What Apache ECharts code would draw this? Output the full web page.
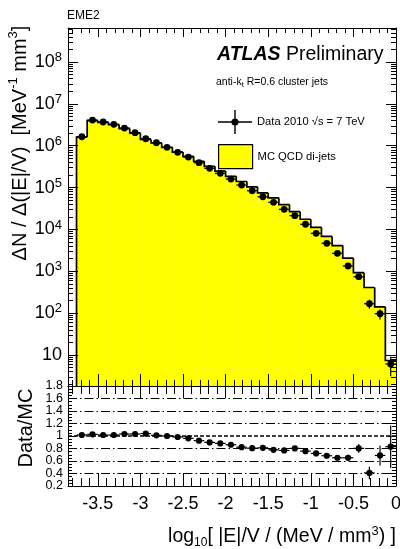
<!DOCTYPE html>
<html><head><meta charset="utf-8">
<script src="https://cdn.jsdelivr.net/npm/echarts@6/dist/echarts.min.js"></script>
<style>html,body{margin:0;padding:0;background:#fff}#c{width:400px;height:549px}</style>
</head><body><div id="c"></div>
<script>
// ---- data ----
const binEdges = [-3.75,-3.625,-3.5,-3.375,-3.25,-3.125,-3,-2.875,-2.75,-2.625,-2.5,-2.375,-2.25,-2.125,-2,-1.875,-1.75,-1.625,-1.5,-1.375,-1.25,-1.125,-1,-0.875,-0.75,-0.625,-0.5,-0.375,-0.25,-0.125,0];
const mcValues = [1.61e6,4.00e6,3.63e6,3.20e6,2.57e6,1.99e6,1.415e6,1.167e6,9.16e5,7.06e5,5.58e5,4.25e5,3.22e5,2.48e5,1.86e5,1.40e5,1.045e5,7.46e4,5.71e4,3.94e4,2.66e4,1.755e4,1.122e4,6830,4130,2060,926,410,141,7.4];
const dataValues = [1.64e6,4.11e6,3.69e6,3.25e6,2.65e6,2.05e6,1.47e6,1.18e6,9.16e5,6.95e5,5.37e5,3.93e5,2.89e5,2.19e5,1.60e5,1.15e5,8.41e4,6.05e4,4.45e4,3.03e4,2.13e4,1.33e4,8090,4670,2690,1340,743,168,97,6.1];
const dataErrors = [8e3,2e4,1.8e4,1.6e4,1.3e4,1e4,8.5e3,7e3,6.4e3,5.7e3,5e3,4.2e3,3.5e3,3e3,2.4e3,2e3,1.6e3,1.25e3,1.0e3,800,580,440,340,240,165,100,65,41,26,3];
const ratioValues = [1.016,1.027,1.016,1.016,1.032,1.032,1.039,1.011,1.0,0.984,0.963,0.925,0.898,0.882,0.860,0.821,0.805,0.811,0.779,0.769,0.802,0.758,0.721,0.684,0.652,0.652,0.802,0.410,0.689,0.829];
const ratioErrors = [0.005,0.005,0.005,0.005,0.005,0.005,0.006,0.006,0.007,0.008,0.009,0.010,0.011,0.012,0.013,0.014,0.015,0.017,0.018,0.02,0.022,0.025,0.03,0.035,0.04,0.05,0.07,0.10,0.16,0.34];
const ratioTickLabels = [0.2,0.4,0.6,0.8,1,1.2,1.4,1.6,1.8];
const ratioEdgeLabels = [0.2,1.8];
const ratioRefLines = [1.6,1.4,1.2,0.8,0.6,0.4];
const ratioUnityLine = [1.0];
const xRange = [-3.85, 0];
const yTopRange = [1.82, 6.5e8];
const yRatioRange = [0.2, 1.8];
const yRatioStep = 0.2;
const dataName = 'Data 2010 √s = 7 TeV';
const mcName = 'MC QCD di-jets';

const FONT = '"Liberation Sans", Arial, Helvetica, sans-serif';
const BLACK = '#000';

function histRender(params, api) {
  const i = params.dataIndex;
  const cs = params.coordSys;
  const bottom = cs.y + cs.height;
  const pL = api.coord([api.value(0), api.value(2)]);
  const pR = api.coord([api.value(1), api.value(2)]);
  const prevY = i > 0 ? api.coord([api.value(0), mcValues[i-1]])[1] : bottom;
  return {type:'group', children:[
    {type:'rect', shape:{x:pL[0], y:pL[1], width:pR[0]-pL[0], height:bottom-pL[1]},
     style:{fill:'#ffff00', stroke:'#ffff00', lineWidth:0.6}, z2:0},
    {type:'polyline', shape:{points:[[pL[0],prevY],[pL[0],pL[1]],[pR[0],pR[1]]]},
     style:{fill:null, stroke:BLACK, lineWidth:1.7}, z2:5}
  ]};
}
function pointRender(radius) {
  return function(params, api) {
    const cs = params.coordSys;
    const lo = api.value(0), hi = api.value(1), v = api.value(2), e = api.value(3);
    const pL = api.coord([lo, v]), pR = api.coord([hi, v]);
    const xc = (pL[0] + pR[0]) / 2;
    const yU = api.coord([lo, v + e])[1];
    const low = v - e;
    let yD = low > 0 ? api.coord([lo, low])[1] : cs.y + cs.height;
    if (!isFinite(yD)) yD = cs.y + cs.height;
    return {type:'group', children:[
      {type:'line', shape:{x1:pL[0], y1:pL[1], x2:pR[0], y2:pR[1]}, style:{stroke:BLACK, lineWidth:1.2}, z2:10},
      {type:'line', shape:{x1:xc, y1:yU, x2:xc, y2:yD}, style:{stroke:BLACK, lineWidth:1.2}, z2:10},
      {type:'circle', shape:{cx:xc, cy:pL[1], r:radius}, style:{fill:BLACK}, z2:11}
    ]};
  };
}

function xAx(grid, pos, major, minor, labels) {
  return {
    type:'value', gridIndex:grid, position:pos, min:xRange[0], max:xRange[1], splitNumber:7, z:10,
    axisLine:{show:true, onZero:false, lineStyle:{color:BLACK, width:1}},
    axisTick:{show:true, inside:true, length:major, lineStyle:{color:BLACK, width:1}},
    minorTick:{show:true, splitNumber:5, length:minor, lineStyle:{color:BLACK, width:1}},
    splitLine:{show:false}, minorSplitLine:{show:false},
    axisLabel: labels ? {show:true, fontSize:18, fontFamily:FONT, color:BLACK, margin:9, showMinLabel:false, showMaxLabel:true} : {show:false}
  };
}
function yTop(pos, labels) {
  return {
    type:'log', logBase:10, gridIndex:0, position:pos, min:yTopRange[0], max:yTopRange[1], z:10,
    axisLine:{show:true, onZero:false, lineStyle:{color:BLACK, width:1}},
    axisTick:{show:true, inside:true, length:10, lineStyle:{color:BLACK, width:1}},
    minorTick:{show:true, splitNumber:9, length:5, lineStyle:{color:BLACK, width:1}},
    splitLine:{show:false}, minorSplitLine:{show:false},
    axisLabel: labels ? {
      show:true, fontSize:18, fontFamily:FONT, color:BLACK, margin:6, lineHeight:22,
      showMinLabel:false, showMaxLabel:false,
      formatter: function(v){ const e = Math.round(Math.log10(v)); return e === 1 ? '10' : '10{sup|' + e + '}'; },
      rich:{sup:{fontSize:13, fontFamily:FONT, color:BLACK, verticalAlign:'top', lineHeight:13}}
    } : {show:false}
  };
}
function yRatioMain(pos, labels) {
  return {
    type:'value', gridIndex:1, position:pos, min:yRatioRange[0], max:yRatioRange[1], interval:yRatioStep, z:10,
    axisLine:{show:true, onZero:false, lineStyle:{color:BLACK, width:1}},
    axisTick:{show:true, inside:true, length:8, lineStyle:{color:BLACK, width:1}},
    minorTick:{show:true, splitNumber:4, length:4, lineStyle:{color:BLACK, width:1}},
    splitLine:{show:false}, minorSplitLine:{show:false},
    axisLabel: labels ? {show:true, customValues:ratioTickLabels, interval:0, hideOverlap:false,
      fontSize:12.5, lineHeight:8, fontFamily:FONT, color:BLACK, margin:5} : {show:false}
  };
}
function yRatioEdge() {
  return {
    type:'value', gridIndex:1, position:'left', min:yRatioRange[0], max:yRatioRange[1], interval:yRatioStep, z:10,
    axisLine:{show:false, onZero:false}, axisTick:{show:false}, minorTick:{show:false},
    splitLine:{show:false}, minorSplitLine:{show:false},
    axisLabel:{show:true, customValues:ratioEdgeLabels, showMinLabel:true, showMaxLabel:true, hideOverlap:false,
      fontSize:12.5, lineHeight:8, fontFamily:FONT, color:BLACK, margin:5}
  };
}

const chart = echarts.init(document.getElementById('c'), null, {renderer:'canvas'});
const histData = mcValues.map((v,i) => [binEdges[i], binEdges[i+1], v]);
const ptData = dataValues.map((v,i) => [binEdges[i], binEdges[i+1], v, dataErrors[i]]);
const ratioData = ratioValues.map((v,i) => [binEdges[i], binEdges[i+1], v, ratioErrors[i]]);

chart.setOption({
  animation:false,
  backgroundColor:'#fff',
  textStyle:{fontFamily:FONT},
  grid:[
    {left:68, top:28, width:328, height:358, containLabel:false, outerBoundsMode:'none'},
    {left:68, top:386, width:328, height:100, containLabel:false, outerBoundsMode:'none'}
  ],
  xAxis:[xAx(0,'bottom',12,6,false), xAx(0,'top',9,5,false), xAx(1,'bottom',13,8,true), xAx(1,'top',12,8,false)],
  yAxis:[yTop('left',true), yTop('right',false), yRatioMain('left',true), yRatioMain('right',false), yRatioEdge()],
  title:[
    {text:'EME2', left:67, top:10, padding:0, textStyle:{fontSize:12, fontWeight:'normal', fontFamily:FONT, color:BLACK}},
    {text:'{a|ATLAS} {b|Preliminary}', left:217, top:45, padding:0,
     textStyle:{fontSize:19.5, fontWeight:'normal', fontFamily:FONT, color:BLACK,
       rich:{a:{fontSize:19.5, fontWeight:'bold', fontStyle:'italic', fontFamily:FONT, color:BLACK}, b:{fontSize:19.5, fontFamily:FONT, color:BLACK}}}},
    {text:'{n|anti-k}{s|t}{n| R=0.6 cluster jets}', left:216, top:76, padding:0,
     textStyle:{fontSize:10.5, fontWeight:'normal', fontFamily:FONT, color:BLACK,
       rich:{n:{fontSize:10.5, fontFamily:FONT, color:BLACK, lineHeight:13}, s:{fontSize:7.5, fontFamily:FONT, color:BLACK, verticalAlign:'bottom', lineHeight:8}}}}
  ],
  legend:[
    {data:[{name:dataName, itemStyle:{color:BLACK, borderWidth:0}}], left:218, top:110, padding:0, itemWidth:34, itemHeight:24, selectedMode:false,
     icon:'path://M0 11.3H34V12.7H0Z M16.3 0H17.7V24H16.3Z M13.4 12A3.6 3.6 0 1 1 20.6 12A3.6 3.6 0 1 1 13.4 12Z',
     textStyle:{fontSize:11.2, fontFamily:FONT, color:BLACK}},
    {data:[{name:mcName, itemStyle:{color:'#ffff00', borderColor:BLACK, borderWidth:1.2}}], left:218, top:144, padding:0, itemWidth:34, itemHeight:24, selectedMode:false,
     icon:'rect', textStyle:{fontSize:11.2, fontFamily:FONT, color:BLACK}}
  ],
  graphic:[
    {type:'text', x:20, y:143, rotation:Math.PI/2, silent:true,
     style:{text:'{n|ΔN / Δ(|E|/V)  [MeV}{s|-1}{n| mm}{s|3}{n|]}', textAlign:'center', textVerticalAlign:'middle', fill:BLACK,
       font:'20px ' + FONT,
       rich:{n:{fontSize:20, fontFamily:FONT, fill:BLACK, lineHeight:26}, s:{fontSize:13, fontFamily:FONT, fill:BLACK, verticalAlign:'top', lineHeight:14}}}},
    {type:'text', x:26, y:428, rotation:Math.PI/2, silent:true,
     style:{text:'Data/MC', textAlign:'center', textVerticalAlign:'middle', fill:BLACK, font:'20px ' + FONT}},
    {type:'text', x:396, y:537, silent:true,
     style:{text:'{n|log}{b|10}{n|[ |E|/V / (MeV / mm}{s|3}{n|) ]}', textAlign:'right', textVerticalAlign:'middle', fill:BLACK,
       font:'19.5px ' + FONT,
       rich:{n:{fontSize:19.5, fontFamily:FONT, fill:BLACK, lineHeight:24}, b:{fontSize:12, fontFamily:FONT, fill:BLACK, verticalAlign:'bottom', lineHeight:12}, s:{fontSize:13, fontFamily:FONT, fill:BLACK, verticalAlign:'top', lineHeight:13}}}}
  ],
  series:[
    {name:mcName, type:'custom', xAxisIndex:0, yAxisIndex:0, z:2, itemStyle:{color:'#ffff00', borderColor:BLACK},
     encode:{x:[0,1], y:2}, data:histData, renderItem:histRender, silent:true},
    {name:dataName, type:'custom', xAxisIndex:0, yAxisIndex:0, z:3, itemStyle:{color:BLACK},
     encode:{x:[0,1], y:2}, data:ptData, renderItem:pointRender(3.4), silent:true},
    {name:'ratio', type:'custom', xAxisIndex:2, yAxisIndex:2, z:3, itemStyle:{color:BLACK},
     encode:{x:[0,1], y:2}, data:ratioData, renderItem:pointRender(3.1), silent:true},
    {name:'refs', type:'line', xAxisIndex:2, yAxisIndex:2, data:[], silent:true, z:1,
     markLine:{silent:true, symbol:['none','none'], label:{show:false}, animation:false,
       data: ratioRefLines.map(v => ({yAxis:v, lineStyle:{color:BLACK, width:1, type:[9,3,1.5,3]}}))
         .concat(ratioUnityLine.map(v => ({yAxis:v, lineStyle:{color:BLACK, width:1.5, type:[4,2]}})))}}
  ]
});
</script></body></html>
